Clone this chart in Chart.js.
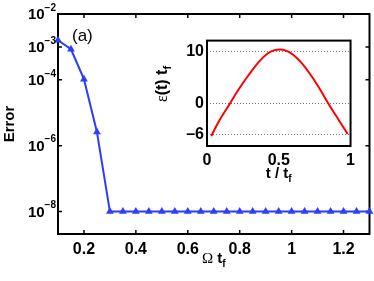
<!DOCTYPE html>
<html>
<head>
<meta charset="utf-8">
<script src="https://cdn.jsdelivr.net/npm/chart.js@4"></script>
<style>
html, body { margin: 0; padding: 0; background: #fff; }
#wrap { position: relative; width: 374px; height: 281px; }
#main { position: absolute; left: 0; top: 0; }
#inset { position: absolute; left: 150px; top: 28px; }
</style>
</head>
<body>
<div id="wrap">
  <canvas id="main" width="374" height="281"></canvas>
  <canvas id="inset" width="210" height="160"></canvas>
</div>
<script>
// main panel: error vs Omega t_f
const omegaTf = [0.1, 0.15, 0.2, 0.25, 0.3, 0.35, 0.4, 0.45, 0.5, 0.55, 0.6, 0.65, 0.7,
                 0.75, 0.8, 0.85, 0.9, 0.95, 1.0, 1.05, 1.1, 1.15, 1.2, 1.25, 1.3];
const errorVals = [1.6e-3, 8.5e-4, 1.05e-4, 2.6e-6, 1e-8, 1e-8, 1e-8, 1e-8, 1e-8, 1e-8, 1e-8, 1e-8, 1e-8,
                   1e-8, 1e-8, 1e-8, 1e-8, 1e-8, 1e-8, 1e-8, 1e-8, 1e-8, 1e-8, 1e-8, 1e-8];
const omegaTicks = [0.2, 0.4, 0.6, 0.8, 1, 1.2];
const errExpTicks = [-2, -3, -4, -6, -8];

// inset: eps(t) t_f vs t / t_f
const tInset = [0.03, 0.08, 0.16, 0.22, 0.29, 0.36, 0.42, 0.47, 0.51, 0.55, 0.60, 0.66, 0.73, 0.79, 0.845, 0.92, 0.98];
const epsInset = [-6.3, -3.6, 0, 2.7, 5.5, 8.0, 9.6, 10.3, 10.45, 10.2, 9.4, 7.8, 5.2, 2.6, 0, -3.3, -5.9];
const tTicks = [0, 0.5, 1];
const epsTicks = [-6, 0, 10];

const BLUE = '#2b3dff';
const SANS = '"Liberation Sans", Arial, sans-serif';

// draw pieces of text (for sub/superscripts) in one run
function richText(ctx, segs, x, y, align) {
  let total = 0;
  segs.forEach(s => { ctx.font = s.font; s.w = ctx.measureText(s.t).width; total += s.w; });
  let cx = align === 'right' ? x - total : align === 'center' ? x - total / 2 : x;
  ctx.textBaseline = 'middle';
  ctx.textAlign = 'left';
  segs.forEach(s => { ctx.font = s.font; ctx.fillText(s.t, cx, y + (s.dy || 0)); cx += s.w; });
}

const mainDeco = {
  id: 'mainDeco',
  beforeDatasetsDraw(chart) {
    const { ctx, chartArea: a, scales: { x, y } } = chart;
    ctx.save();
    ctx.strokeStyle = '#000';
    ctx.lineWidth = 2;
    ctx.strokeRect(a.left, a.top, a.right - a.left, a.bottom - a.top);
    ctx.lineWidth = 1.5;
    ctx.beginPath();
    omegaTicks.forEach(v => {
      const px = x.getPixelForValue(v);
      ctx.moveTo(px, a.bottom); ctx.lineTo(px, a.bottom - 4);
      ctx.moveTo(px, a.top); ctx.lineTo(px, a.top + 4);
    });
    errExpTicks.forEach(e => {
      const py = y.getPixelForValue(Math.pow(10, e));
      ctx.moveTo(a.left, py); ctx.lineTo(a.left + 4, py);
      ctx.moveTo(a.right, py); ctx.lineTo(a.right - 4, py);
    });
    ctx.stroke();
    ctx.restore();
  },
  afterDraw(chart) {
    const { ctx, chartArea: a, scales: { y } } = chart;
    ctx.save();
    ctx.fillStyle = '#000';
    errExpTicks.forEach(e => {
      const py = y.getPixelForValue(Math.pow(10, e));
      richText(ctx, [
        { t: '10', font: 'bold 15px ' + SANS },
        { t: '\u2212' + Math.abs(e), font: 'bold 10px ' + SANS, dy: -7 }
      ], 56, py + 1, 'right');
    });
    // axis titles
    richText(ctx, [
      { t: '\u03A9', font: '15px "Liberation Serif", serif' },
      { t: ' t', font: 'bold 15px ' + SANS },
      { t: 'f', font: 'bold 10px ' + SANS, dy: 5 }
    ], (a.left + a.right) / 2, 259, 'center');
    ctx.translate(10, (a.top + a.bottom) / 2);
    ctx.rotate(-Math.PI / 2);
    richText(ctx, [{ t: 'Error', font: 'bold 15px ' + SANS }], 0, 0, 'center');
    ctx.restore();
    ctx.save();
    ctx.fillStyle = '#000';
    richText(ctx, [{ t: '(a)', font: '17px ' + SANS }], 72, 36, 'left');
    ctx.restore();
  }
};

new Chart(document.getElementById('main'), {
  type: 'line',
  data: {
    datasets: [{
      data: omegaTf.map((v, i) => ({ x: v, y: errorVals[i] })),
      borderColor: BLUE,
      backgroundColor: BLUE,
      borderWidth: 2,
      pointStyle: 'triangle',
      pointRadius: 4.5,
      pointBorderWidth: 0,
      tension: 0,
      clip: false
    }]
  },
  options: {
    responsive: false,
    animation: false,
    layout: { padding: { top: 14, right: 1, left: 0, bottom: 0 } },
    plugins: { legend: { display: false }, tooltip: { enabled: false } },
    scales: {
      x: {
        type: 'linear', min: 0.1, max: 1.3,
        afterBuildTicks: s => { s.ticks = omegaTicks.map(v => ({ value: v })); },
        afterFit: s => { s.height = 47; },
        grid: { display: false, drawTicks: false },
        border: { display: false },
        ticks: {
          color: '#000', padding: 6, maxRotation: 0, autoSkip: false,
          font: { family: SANS, weight: 'bold', size: 16 },
          callback: v => String(v)
        }
      },
      y: {
        type: 'logarithmic', min: Math.pow(10, -8.68), max: 1e-2,
        afterBuildTicks: s => { s.ticks = errExpTicks.map(e => ({ value: Math.pow(10, e) })); },
        afterFit: s => { s.width = 58; },
        grid: { display: false, drawTicks: false },
        border: { display: false },
        ticks: { display: false }
      }
    }
  },
  plugins: [mainDeco]
});

const insetDeco = {
  id: 'insetDeco',
  beforeDraw(chart) {
    const { ctx, chartArea: a } = chart;
    ctx.save();
    ctx.fillStyle = '#fff';
    ctx.fillRect(a.left, a.top, a.right - a.left, a.bottom - a.top);
    ctx.restore();
  },
  afterDraw(chart) {
    const { ctx, chartArea: a } = chart;
    ctx.save();
    ctx.strokeStyle = '#000';
    ctx.lineWidth = 2;
    ctx.strokeRect(a.left, a.top, a.right - a.left, a.bottom - a.top);
    ctx.fillStyle = '#000';
    richText(ctx, [
      { t: 't / t', font: 'bold 15px ' + SANS },
      { t: 'f', font: 'bold 10px ' + SANS, dy: 5 }
    ], (a.left + a.right) / 2, 146, 'center');
    ctx.translate(13, 56);
    ctx.rotate(-Math.PI / 2);
    richText(ctx, [
      { t: '\u03B5', font: '16px "Liberation Serif", serif' },
      { t: '(t) t', font: 'bold 16px ' + SANS },
      { t: 'f', font: 'bold 11px ' + SANS, dy: 5 }
    ], 0, 0, 'center');
    ctx.restore();
  }
};

new Chart(document.getElementById('inset'), {
  type: 'line',
  data: {
    datasets: [{
      data: tInset.map((t, i) => ({ x: t, y: epsInset[i] })),
      borderColor: '#ff0000',
      borderWidth: 2,
      pointRadius: 0,
      cubicInterpolationMode: 'monotone'
    }]
  },
  options: {
    responsive: false,
    animation: false,
    layout: { padding: { top: 7, right: 9, left: 0, bottom: 0 } },
    plugins: { legend: { display: false }, tooltip: { enabled: false } },
    scales: {
      x: {
        type: 'linear', min: 0, max: 1,
        afterBuildTicks: s => { s.ticks = tTicks.map(v => ({ value: v })); },
        afterFit: s => { s.height = 42; },
        grid: { display: false, drawTicks: false },
        border: { display: false },
        ticks: {
          color: '#000', padding: 5, maxRotation: 0, autoSkip: false,
          font: { family: SANS, weight: 'bold', size: 16 },
          callback: v => String(v)
        }
      },
      y: {
        type: 'linear', min: -8.23, max: 12.15,
        afterBuildTicks: s => { s.ticks = epsTicks.map(v => ({ value: v })); },
        afterFit: s => { s.width = 57; },
        grid: { color: '#777', lineWidth: 1, drawTicks: false },
        border: { display: false, dash: [1, 2] },
        ticks: {
          color: '#000', padding: 3,
          font: { family: SANS, weight: 'bold', size: 16 },
          callback: v => v < 0 ? '\u2013' + Math.abs(v) : String(v)
        }
      }
    }
  },
  plugins: [insetDeco]
});
</script>
</body>
</html>
